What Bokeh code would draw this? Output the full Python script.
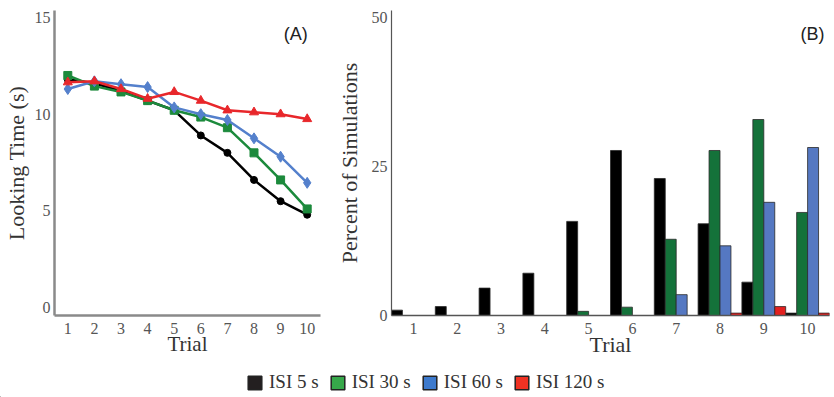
import numpy as np
from bokeh.plotting import figure
from bokeh.layouts import column, row
from bokeh.models import Range1d, FixedTicker, Label, Legend, LegendItem
from bokeh.embed import file_html
from bokeh.resources import INLINE

# ---------------- data ----------------
trials = [1, 2, 3, 4, 5, 6, 7, 8, 9, 10]
series_names = ["ISI 5 s", "ISI 30 s", "ISI 60 s", "ISI 120 s"]

# Panel A: looking time (s)
look_isi5 = [11.8, 11.6, 11.2, 10.7, 10.2, 8.9, 8.0, 6.6, 5.5, 4.8]
look_isi30 = [12.0, 11.45, 11.15, 10.7, 10.2, 9.85, 9.3, 8.0, 6.6, 5.1]
look_isi60 = [11.3, 11.7, 11.55, 11.4, 10.35, 10.0, 9.7, 8.75, 7.8, 6.45]
look_isi120 = [11.65, 11.7, 11.3, 10.8, 11.15, 10.7, 10.2, 10.1, 10.0, 9.75]

# Panel B: percent of simulations
pct_isi5 = [0.9, 1.5, 4.6, 7.1, 15.8, 27.7, 23.0, 15.4, 5.6, 0.4]
pct_isi30 = [0, 0, 0, 0, 0.7, 1.4, 12.8, 27.7, 32.9, 17.3]
pct_isi60 = [0, 0, 0, 0, 0, 0, 3.5, 11.7, 19.0, 28.2]
pct_isi120 = [0, 0, 0, 0, 0, 0, 0, 0.4, 1.5, 0.4]

a_yticks = [0, 5, 10, 15]
b_yticks = [0, 25, 50]

line_colors = ["#000000", "#1c8a3c", "#5480cc", "#e8272b"]
bar_colors = ["#000000", "#14723a", "#5578c2", "#e3201f"]
legend_colors = ["#231f20", "#36a84a", "#3d7acd", "#ef3223"]

SERIF = "Liberation Serif"
SANS = "Liberation Sans"
TICK_COLOR = "#555555"
LABEL_COLOR = "#333333"


def style_axes(p, ticks_x, ticks_y, axis_color, axis_width_x, axis_width_y):
    p.xgrid.visible = False
    p.ygrid.visible = False
    p.outline_line_color = None
    p.xaxis.ticker = FixedTicker(ticks=ticks_x)
    p.yaxis.ticker = FixedTicker(ticks=ticks_y)
    for ax in (p.xaxis, p.yaxis):
        ax.major_tick_line_color = None
        ax.minor_tick_line_color = None
        ax.major_tick_out = 0
        ax.major_tick_in = 0
        ax.major_label_text_font = SERIF
        ax.major_label_text_font_size = "16px"
        ax.major_label_text_color = TICK_COLOR
        ax.axis_line_color = axis_color
        ax.axis_label_text_font = SERIF
        ax.axis_label_text_font_style = "normal"
        ax.axis_label_text_color = LABEL_COLOR
        ax.axis_label_text_font_size = "22px"
    p.xaxis.axis_line_width = axis_width_x
    p.yaxis.axis_line_width = axis_width_y
    p.xaxis.major_label_standoff = 7
    p.yaxis.major_label_standoff = 4


# ---------------- panel A ----------------
pA = figure(width=330, height=360, x_range=Range1d(0.5, 10.5), y_range=Range1d(-0.41, 15.36),
            output_backend="svg", toolbar_location=None,
            min_border_left=52, min_border_right=10, min_border_top=10, min_border_bottom=45)
style_axes(pA, trials, a_yticks, "#8a8a8a", 2.5, 2.5)
pA.xaxis.axis_label = "Trial"
pA.yaxis.axis_label = "Looking Time (s)"
pA.xaxis.axis_label_text_font_size = "21px"
pA.xaxis.axis_label_standoff = -5
pA.yaxis.axis_label_standoff = 3

looks = [look_isi5, look_isi30, look_isi60, look_isi120]
markers = ["circle", "square", "diamond", "triangle"]
msizes = [7, 8, 11, 9]
for vals, col, mk, ms in zip(looks, line_colors, markers, msizes):
    pA.line(trials, vals, line_color=col, line_width=2.5)
    pA.scatter(trials, vals, marker=mk, size=ms, fill_color=col, line_color=col)

pA.add_layout(Label(x=9.12, y=14.17, text="(A)", text_align="left", text_baseline="middle",
                    text_font=SANS, text_font_size="18px", text_color="#222222"))

# ---------------- panel B ----------------
pB = figure(width=504, height=360, x_range=Range1d(0.5, 10.5), y_range=Range1d(0, 51.2),
            output_backend="svg", toolbar_location=None,
            min_border_left=61, min_border_right=5, min_border_top=10, min_border_bottom=45)
style_axes(pB, trials, b_yticks, "#555555", 1.5, 1.2)
pB.xaxis.axis_label = "Trial"
pB.yaxis.axis_label = "Percent of Simulations"
pB.xaxis.axis_label_standoff = -5
pB.yaxis.axis_label_standoff = 7

pcts = [pct_isi5, pct_isi30, pct_isi60, pct_isi120]
offsets = [-0.375, -0.125, 0.125, 0.375]
for vals, col, off in zip(pcts, bar_colors, offsets):
    xs = [t + off for t, v in zip(trials, vals) if v > 0]
    tops = [v for v in vals if v > 0]
    pB.vbar(x=xs, top=tops, bottom=0, width=0.25, fill_color=col,
            line_color="#2a2a2a", line_width=0.8)

pB.add_layout(Label(x=9.84, y=47.3, text="(B)", text_align="left", text_baseline="middle",
                    text_font=SANS, text_font_size="18px", text_color="#222222"))

# ---------------- legend strip ----------------
pL = figure(width=834, height=37, x_range=Range1d(0, 1), y_range=Range1d(0, 1),
            output_backend="svg", toolbar_location=None, x_axis_type=None, y_axis_type=None,
            min_border_left=0, min_border_right=0, min_border_top=0, min_border_bottom=0)
pL.outline_line_color = None
pL.xgrid.visible = False
pL.ygrid.visible = False
items = []
for name, col in zip(series_names, legend_colors):
    r = pL.vbar(x=[-5], top=[-5], bottom=-6, width=0.1, fill_color=col,
                line_color="#222222", line_width=1.5)
    items.append(LegendItem(label=name, renderers=[r]))
leg = Legend(items=items, orientation="horizontal", location=(246, 4),
             glyph_width=17, glyph_height=17, label_standoff=6, spacing=10,
             padding=0, margin=0, border_line_color=None, background_fill_alpha=0,
             label_text_font=SERIF, label_text_font_size="19px", label_text_color="#333333")
pL.add_layout(leg)

layout = column(row(pA, pB), pL)

with open("out.html", "w") as f:
    f.write(file_html(layout, INLINE))
